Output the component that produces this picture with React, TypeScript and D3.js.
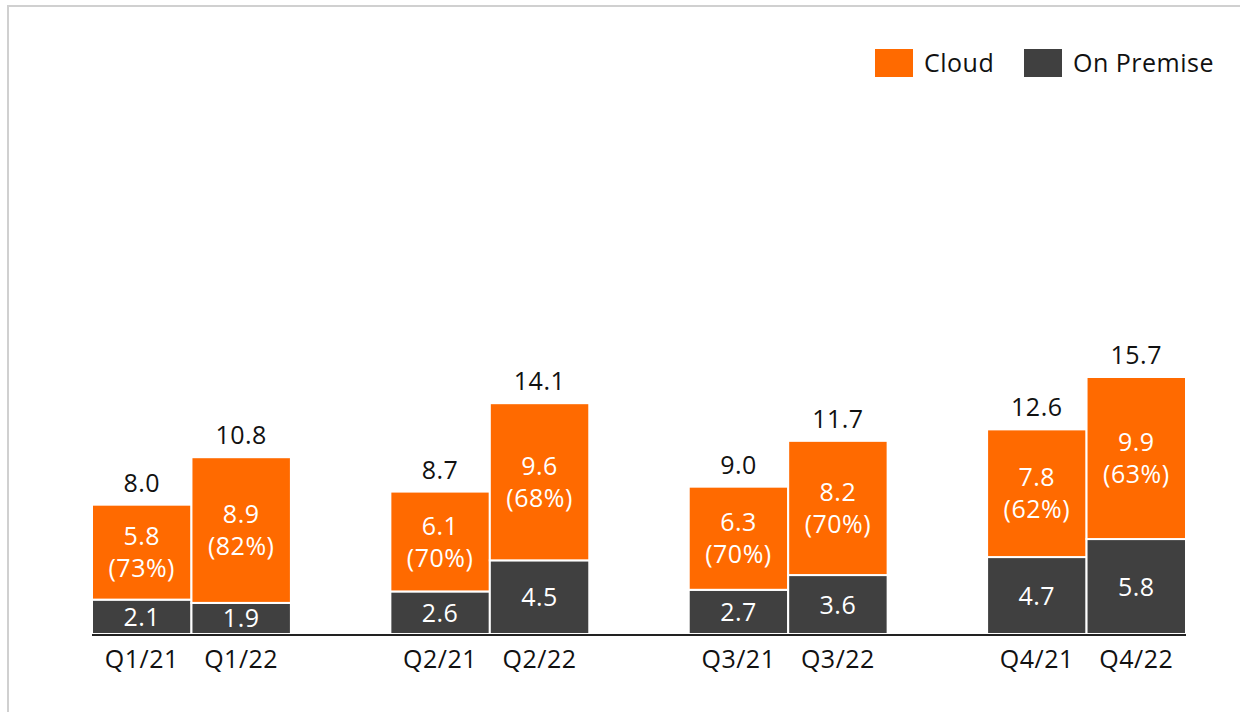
import React from "react";
import * as d3 from "d3";

// quarter labels, in drawing order
const quarters = ["Q1/21", "Q1/22", "Q2/21", "Q2/22", "Q3/21", "Q3/22", "Q4/21", "Q4/22"];
const onPremise = [2.1, 1.9, 2.6, 4.5, 2.7, 3.6, 4.7, 5.8];
const cloud = [5.8, 8.9, 6.1, 9.6, 6.3, 8.2, 7.8, 9.9];
const cloudShare = [73, 82, 70, 68, 70, 70, 62, 63];
const totals = [8.0, 10.8, 8.7, 14.1, 9.0, 11.7, 12.6, 15.7];

const seriesNames = ["Cloud", "On Premise"];
const ORANGE = "#FF6A00";
const DARK = "#404040";
const FONT = "'Open Sans', 'DejaVu Sans', sans-serif";

// pairs of bars with an empty slot between each pair
const slots = ["Q1/21", "Q1/22", "gap1", "Q2/21", "Q2/22", "gap2", "Q3/21", "Q3/22", "gap3", "Q4/21", "Q4/22"];

function App() {
  const W = 1240;
  const H = 712;
  const baseline = 634;

  const x = d3.scaleBand().domain(slots).range([92, 1186]).padding(0);
  const y = d3.scaleLinear().domain([0, 15.7]).range([baseline, 377]);

  const rows = quarters.map((q, i) => ({ q, onPremise: onPremise[i], cloud: cloud[i] }));
  const stacked = d3.stack<any>().keys(["onPremise", "cloud"])(rows);
  const [premLayer, cloudLayer] = stacked;

  const bw = x.bandwidth();
  const fs = 25;
  const ls = 0.5;

  return (
    <svg width={W} height={H} style={{ position: "absolute", left: 0, top: 0 }} fontFamily={FONT}>
      <rect x={0} y={0} width={W} height={H} fill="#fff" />
      <rect x={8} y={6} width={W + 10} height={H + 10} fill="none" stroke="#d0d0d0" strokeWidth={2} />

      {quarters.map((q, i) => {
        const x0 = x(q)!;
        const p = premLayer[i];
        const c = cloudLayer[i];
        const cx = x0 + bw / 2;
        const cloudMid = (y(c[0]) + y(c[1])) / 2;
        return (
          <g key={q} letterSpacing={ls}>
            <rect x={x0} y={y(p[1])} width={bw} height={y(p[0]) - y(p[1])} fill={DARK} stroke="#fff" strokeWidth={2} />
            <rect x={x0} y={y(c[1])} width={bw} height={y(c[0]) - y(c[1])} fill={ORANGE} stroke="#fff" strokeWidth={2} />
            <text x={cx} y={(y(p[0]) + y(p[1])) / 2} dy="0.36em" textAnchor="middle" fill="#fff" fontSize={fs}>
              {onPremise[i].toFixed(1)}
            </text>
            <text x={cx} y={cloudMid - 16} dy="0.36em" textAnchor="middle" fill="#fff" fontSize={fs}>
              {cloud[i].toFixed(1)}
            </text>
            <text x={cx} y={cloudMid + 16} dy="0.36em" textAnchor="middle" fill="#fff" fontSize={fs}>
              ({cloudShare[i]}%)
            </text>
            <text x={cx} y={y(c[1]) - 13} textAnchor="middle" fill="#111" fontSize={fs}>
              {totals[i].toFixed(1)}
            </text>
            <text x={cx} y={668} textAnchor="middle" fill="#111" fontSize={fs}>
              {q}
            </text>
          </g>
        );
      })}

      <line x1={92} x2={1186} y1={baseline + 1} y2={baseline + 1} stroke="#222" strokeWidth={2} />

      {/* legend */}
      {seriesNames.map((name, i) => {
        const lx = [875, 1024][i];
        return (
          <g key={name}>
            <rect x={lx} y={49} width={38} height={28} fill={i === 0 ? ORANGE : DARK} />
            <text x={lx + 49} y={72} fill="#111" fontSize={fs} letterSpacing={ls}>
              {name}
            </text>
          </g>
        );
      })}
    </svg>
  );
}

export default App;
